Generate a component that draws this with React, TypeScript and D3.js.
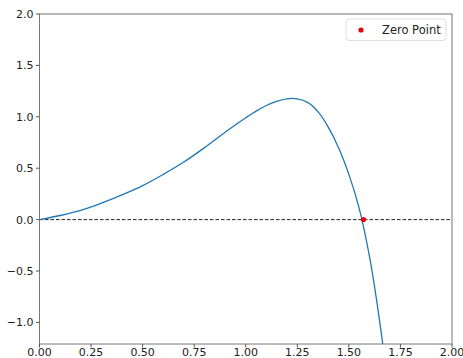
import React from 'react';
import * as d3 from 'd3';

// curve values
const xs = [0, 0.1, 0.2, 0.3, 0.4, 0.5, 0.6, 0.7, 0.8, 0.9, 1.0, 1.05, 1.1, 1.15, 1.2, 1.25, 1.3, 1.35, 1.4, 1.45, 1.5, 1.55, 1.6, 1.65, 1.7];
const ys = [0, 0.04, 0.09, 0.16, 0.24, 0.33, 0.44, 0.56, 0.70, 0.85, 0.99, 1.055, 1.11, 1.15, 1.175, 1.175, 1.14, 1.05, 0.90, 0.70, 0.44, 0.11, -0.36, -1.0, -1.8];
const zeroPoint = [1.5708, 0];
const xTicks = [0, 0.25, 0.5, 0.75, 1.0, 1.25, 1.5, 1.75, 2.0];
const yTicks = [-1.0, -0.5, 0, 0.5, 1.0, 1.5, 2.0];
const legendLabel = 'Zero Point';

const W = 463;
const H = 358;
const m = { left: 39.5, right: 11, top: 14, bottom: 14 };

const App = () => {
  const x = d3.scaleLinear().domain([0, 2]).range([m.left, W - m.right]);
  const y = d3.scaleLinear().domain([-1.21, 2]).range([H - m.bottom, m.top]);
  const pts = xs.map((v, i) => [v, ys[i]] as [number, number]);
  const line = d3.line<[number, number]>().x(d => x(d[0])).y(d => y(d[1])).curve(d3.curveCatmullRom.alpha(0.5));
  const font = "'DejaVu Sans', sans-serif";

  return (
    <svg width={W} height={H} style={{ position: 'absolute', left: 0, top: 0, background: '#fff' }}>
      <defs>
        <clipPath id="plot">
          <rect x={m.left} y={m.top} width={W - m.left - m.right} height={H - m.top - m.bottom} />
        </clipPath>
      </defs>
      <g clipPath="url(#plot)">
        <line x1={x(0)} x2={x(2)} y1={y(0)} y2={y(0)} stroke="#222" strokeWidth={1} strokeDasharray="3.5,2" />
        <path d={line(pts) || ''} fill="none" stroke="#1f77b4" strokeWidth={1.3} />
        <circle cx={x(zeroPoint[0])} cy={y(zeroPoint[1])} r={2.6} fill="#e8000b" />
      </g>
      {/* spines */}
      <rect x={m.left} y={m.top} width={W - m.left - m.right} height={H - m.top - m.bottom} fill="none" stroke="#777" strokeWidth={1} />
      {/* x axis */}
      {xTicks.map(t => (
        <g key={'x' + t}>
          <line x1={x(t)} x2={x(t)} y1={H - m.bottom} y2={H - m.bottom + 3.5} stroke="#555" />
          <text x={x(t)} y={356} textAnchor="middle" fontFamily={font} fontSize={11} fill="#222">{t.toFixed(2)}</text>
        </g>
      ))}
      {/* y axis */}
      {yTicks.map(t => (
        <g key={'y' + t}>
          <line x1={m.left - 3.5} x2={m.left} y1={y(t)} y2={y(t)} stroke="#555" />
          <text x={m.left - 6} y={y(t)} dy="0.36em" textAnchor="end" fontFamily={font} fontSize={11} fill="#222">{t < 0 ? '\u2212' + Math.abs(t).toFixed(1) : t.toFixed(1)}</text>
        </g>
      ))}
      {/* legend */}
      <rect x={346} y={19} width={100} height={21.5} rx={3} fill="#fff" stroke="#ddd" strokeWidth={1} />
      <circle cx={361} cy={30} r={2.6} fill="#e8000b" />
      <text x={382} y={34} fontFamily={font} fontSize={11.5} fill="#222">{legendLabel}</text>
    </svg>
  );
};

export default App;
